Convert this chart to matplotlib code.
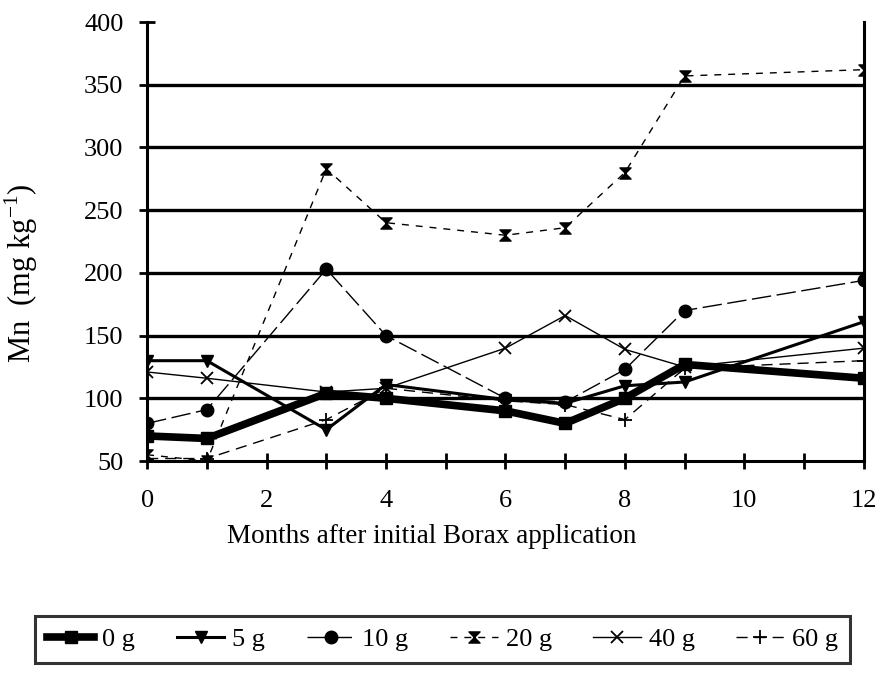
import matplotlib
matplotlib.use("Agg")
import matplotlib.pyplot as plt
from matplotlib.path import Path

plt.rcParams['font.family'] = ['Liberation Serif', 'DejaVu Serif']

months = [0, 1, 3, 4, 6, 7, 8, 9, 12]
g0 = [70, 68, 104, 100, 90, 80, 100, 127, 116]
g5 = [130, 130, 75, 111, 99, 96, 110, 113, 161]
g10 = [80, 91, 203, 150, 100, 97, 123, 170, 194]
g20 = [55, 50, 283, 240, 230, 236, 280, 357, 362]
g40 = [121, 116, 105, 108, 140, 166, 139, 125, 140]
g60 = [52, 52, 83, 108, 98, 95, 83, 124, 130]
labels = ['0 g', '5 g', '10 g', '20 g', '40 g', '60 g']

# hourglass marker for the 20 g series
hourglass = Path([(-1, 1), (1, 1), (-1, -1), (1, -1), (-1, 1)],
                 [Path.MOVETO, Path.LINETO, Path.LINETO, Path.LINETO, Path.CLOSEPOLY])

fig = plt.figure(figsize=(8.76, 6.77), dpi=100)
ax = fig.add_axes([0.168, 0.319, 0.818, 0.6485])

for v in [100, 150, 200, 250, 300, 350]:
    ax.axhline(v, color='black', lw=2.4, zorder=1)

ax.plot(months, g0, color='black', lw=5.5, marker='s', ms=8, label=labels[0], zorder=3)
ax.plot(months, g5, color='black', lw=2.2, marker='v', ms=9, label=labels[1], zorder=3)
ax.plot(months, g10, color='black', lw=1, dashes=(14, 4), marker='o', ms=9, label=labels[2], zorder=3)
ax.plot(months, g20, color='black', lw=1, dashes=(5, 5), marker=hourglass, ms=8, label=labels[3], zorder=3)
ax.plot(months, g40, color='black', lw=1, marker='x', ms=9, mew=1.3, label=labels[4], zorder=3)
ax.plot(months, g60, color='black', lw=1, dashes=(8, 5), marker='+', ms=10, mew=1.3, label=labels[5], zorder=3)

ax.set_xlim(0, 12)
ax.set_ylim(50, 400)
ax.set_xticks(range(0, 13, 2))
ax.set_xticks(range(1, 13, 2), minor=True)
ax.set_yticks(range(50, 401, 50))
ax.tick_params(axis='both', which='both', direction='inout', length=12, width=2,
               labelsize=19, colors='black')
ax.tick_params(axis='x', pad=15)
ax.tick_params(axis='y', pad=11)
ax.spines['top'].set_visible(False)
for s in ['left', 'bottom', 'right']:
    ax.spines[s].set_linewidth(2.2)

ax.set_ylabel('Mn  (mg kg$^{\\mathregular{-1}}$)', fontsize=22)
ax.yaxis.set_label_coords(-0.15, 0.428)
ax.set_xlabel('Months after initial Borax application', fontsize=19.5)
ax.xaxis.set_label_coords(0.397, -0.143)

leg = fig.legend(loc='center', bbox_to_anchor=(0.04, 0.013, 0.93, 0.085), mode='expand',
                 ncol=6, fontsize=19, frameon=True, fancybox=False, handlelength=1.8,
                 handletextpad=0.3, borderaxespad=0, borderpad=0.45)
leg.get_frame().set_edgecolor('black')
leg.get_frame().set_linewidth(2.2)

fig.savefig('out.png', dpi=100)
